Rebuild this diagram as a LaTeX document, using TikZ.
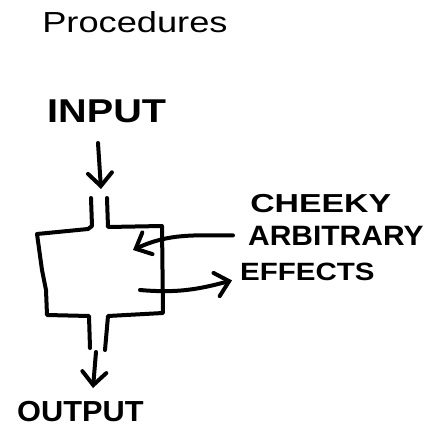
\documentclass[tikz,border=0pt]{standalone}
\usepackage{fontspec}
\usepackage{tikz}
\usetikzlibrary{arrows.meta}
\setmainfont{Liberation Sans}
\newfontfamily\handfont{Liberation Sans}

\tikzset{
  hand/.style={font=\handfont\bfseries, inner sep=0pt, anchor=base west},
  pen/.style={line width=4pt, line cap=round, line join=round},
  arr/.style={pen, -{Straight Barb[length=13pt,width=24pt,line cap=round]}}
}

\begin{document}
\begin{tikzpicture}[x=1pt,y=-1pt]
\useasboundingbox (0,0) rectangle (429,428);
\node[anchor=base west, inner sep=0pt, xscale=1.25, font=\fontsize{29}{29}\selectfont] (title) at (42,33) {Procedures};
\node[hand, xscale=1.2, font=\handfont\bfseries\fontsize{33}{33}\selectfont] (inp) at (47,123) {INPUT};
\node[hand, xscale=1.3, font=\handfont\bfseries\fontsize{26}{26}\selectfont] (chk) at (250,212) {CHEEKY};
\node[hand, xscale=1.07, font=\handfont\bfseries\fontsize{28}{28}\selectfont] (arb) at (248,245) {ARBITRARY};
\node[hand, xscale=1.18, font=\handfont\bfseries\fontsize{25}{25}\selectfont] (eff) at (240,280) {EFFECTS};
\node[hand, xscale=1.06, font=\handfont\bfseries\fontsize{29}{29}\selectfont] (out) at (17,421) {OUTPUT};
\coordinate (intop) at (98,143);
\coordinate (inend) at (101,189);
\coordinate (outtop) at (96,352);
\coordinate (outend) at (93,388);
\coordinate (sideend) at (133,250);
\coordinate (fxstart) at (140,290);
% the box
\draw[pen] (91,198) -- (92,226) -- (88,229) -- (37,234) -- (42,270) -- (46,290) -- (47,315) -- (89,316) -- (90,348);
\draw[pen] (107,198) -- (108,227) -- (162,226) -- (163,313) -- (108,316) -- (105,350);
% arrows
\draw[arr] (intop) -- (inend);
\draw[arr] (outtop) -- (outend);
\draw[arr] ([xshift=-15pt]arb.west) to[out=180,in=25] (sideend);
\draw[arr] (fxstart) to[out=-5,in=195] ([xshift=-8pt,yshift=-9pt]eff.west);
\end{tikzpicture}
\end{document}
